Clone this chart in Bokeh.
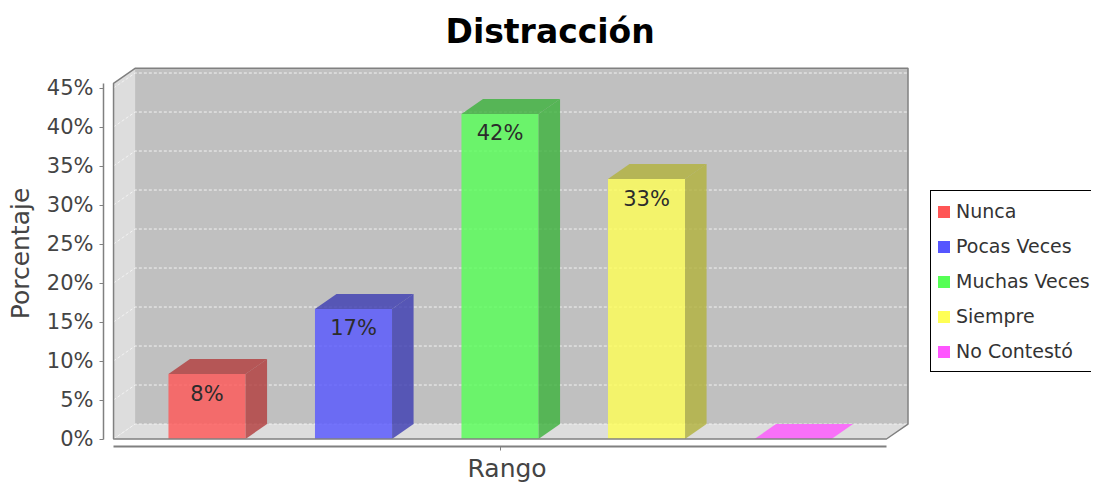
from bokeh.plotting import figure
from bokeh.models import Range1d, FixedTicker, PrintfTickFormatter, Legend, LegendItem, Title
from bokeh.core.properties import value
from bokeh.embed import file_html
from bokeh.resources import INLINE

# ---------------- data ----------------
chart_title = "Distracción"
categories = ["Nunca", "Pocas Veces", "Muchas Veces", "Siempre", "No Contestó"]
values = [8.33, 16.67, 41.67, 33.33, 0.0]          # percent
colors = ["#ff5555", "#5555ff", "#55ff55", "#ffff55", "#ff55ff"]
y_ticks = [0, 5, 10, 15, 20, 25, 30, 35, 40, 45]
y_label = "Porcentaje"
x_label = "Rango"

# ---------------- layout / style constants ----------------
W = 0.526      # bar width in category units
DX = 0.147     # 3D depth offset (x, category units)
DY = 1.92      # 3D depth offset (y, percent units)
X0, X1 = -0.638, 4.638   # category axis extent
YMAX = 45.6              # value axis upper bound
FONT = "DejaVu Sans"


def darker(hex_color, f=0.7):
    h = hex_color.lstrip("#")
    r, g, b = (int(h[i:i + 2], 16) for i in (0, 2, 4))
    return "#%02x%02x%02x" % (int(r * f), int(g * f), int(b * f))


p = figure(width=1091, height=485, output_backend="svg", toolbar_location=None,
           x_range=Range1d(-0.7065, 6.0375), y_range=Range1d(-0.9615, 48.526),
           min_border_left=103, min_border_right=0, min_border_top=60, min_border_bottom=39)
p.outline_line_color = None
p.grid.grid_line_color = None
p.background_fill_color = "white"

# ---- title ----
p.title.text = chart_title
p.title.text_font = FONT
p.title.text_font_size = "33px"
p.title.text_font_style = "bold"
p.title.text_color = "black"
p.title.align = "left"
p.title.offset = 342
p.title.standoff = 19

xs = list(range(len(categories)))
lefts = [x - W / 2 for x in xs]
rights = [x + W / 2 for x in xs]

# legend swatch renderer (full colour, hidden behind the opaque walls)
leg_r = p.quad(left=lefts, right=rights, bottom=0, top=values,
               fill_color=colors, line_color=None)

# ---- walls ----
p.patch([X0, X0 + DX, X0 + DX, X0], [0, DY, YMAX + DY, YMAX],
        fill_color="#dddddd", line_color=None)
p.patch([X0 + DX, X1 + DX, X1 + DX, X0 + DX], [DY, DY, YMAX + DY, YMAX + DY],
        fill_color="#c0c0c0", line_color=None)
p.patch([X0, X1, X1 + DX, X0 + DX], [0, 0, DY, DY],
        fill_color="#dddddd", line_color=None)

# ---- grid lines on walls ----
p.multi_line([[X0, X0 + DX, X1 + DX] for t in y_ticks],
             [[t, t + DY, t + DY] for t in y_ticks],
             line_color="#f2f2f2", line_dash="3 2", line_width=1)

# ---- bars ----
dark = [darker(c) for c in colors]
top_colors = [d if v > 0 else c for c, d, v in zip(colors, dark, values)]

p.quad(left=lefts, right=rights, bottom=0, top=values,
       fill_color=colors, fill_alpha=0.8, line_color=None)
p.patches([[r, r + DX, r + DX, r] for r in rights],
          [[0, DY, v + DY, v] for v in values],
          fill_color=dark, fill_alpha=0.8, line_color=None)
p.patches([[l, l + DX, r + DX, r] for l, r in zip(lefts, rights)],
          [[v, v + DY, v + DY, v] for v in values],
          fill_color=top_colors, fill_alpha=0.8, line_color=None)

# ---- value labels ----
lab_x = [x for x, v in zip(xs, values) if v > 0]
lab_y = [v - 2.5 for v in values if v > 0]
lab_t = ["%.0f%%" % v for v in values if v > 0]
p.text(x=lab_x, y=lab_y, text=lab_t, text_align="center", text_baseline="middle",
       text_font=value(FONT), text_font_size="21px", text_color="#2b2b2b")

# ---- plot outline ----
p.patch([X0, X0 + DX, X1 + DX, X1 + DX, X1, X0],
        [YMAX, YMAX + DY, YMAX + DY, DY, 0, 0],
        fill_color=None, line_color="#808080", line_width=1.5)

# ---- axes ----
ya = p.yaxis[0]
ya.ticker = FixedTicker(ticks=y_ticks)
ya.formatter = PrintfTickFormatter(format="%d%%")
ya.bounds = (0, YMAX)
ya.axis_label = y_label
ya.axis_label_text_font = FONT
ya.axis_label_text_font_size = "25px"
ya.axis_label_text_font_style = "normal"
ya.axis_label_text_color = "#444444"
ya.axis_label_standoff = 9
ya.major_label_text_font = FONT
ya.major_label_text_font_size = "21px"
ya.major_label_text_color = "#444444"
ya.major_label_standoff = 6
ya.major_tick_out = 4
ya.major_tick_in = 0
ya.minor_tick_out = 0
ya.minor_tick_in = 0
ya.axis_line_color = "#808080"
ya.major_tick_line_color = "#808080"
ya.axis_line_width = 1.5

xa = p.xaxis[0]
# one category group -> a single (unlabelled) tick at its centre
xa.ticker = FixedTicker(ticks=[], minor_ticks=[(len(categories) - 1) / 2])
xa.bounds = (X0, X1)
xa.major_label_standoff = 0
xa.major_tick_out = 0
xa.major_tick_in = 0
xa.minor_tick_out = 4
xa.minor_tick_in = 0
xa.minor_tick_line_color = "#808080"
xa.axis_line_color = "#808080"
xa.axis_line_width = 2

# x-axis title, centred under the category axis
p.add_layout(Title(text=x_label, align="left", offset=364, standoff=3,
                   text_font=FONT, text_font_size="25px", text_font_style="normal",
                   text_color="#444444"), "below")

# ---- legend ----
legend = Legend(items=[LegendItem(label=c, renderers=[leg_r], index=i)
                       for i, c in enumerate(categories)],
                location=(827, 74), orientation="vertical",
                border_line_color="black", border_line_width=1, border_line_alpha=1,
                background_fill_color="white", background_fill_alpha=1,
                label_text_font=FONT, label_text_font_size="19px", label_text_color="#333333",
                glyph_width=15, glyph_height=15, label_height=30, label_standoff=5,
                spacing=5, padding=5, margin=0)
p.add_layout(legend)

open("out.html", "w").write(file_html(p, INLINE))
